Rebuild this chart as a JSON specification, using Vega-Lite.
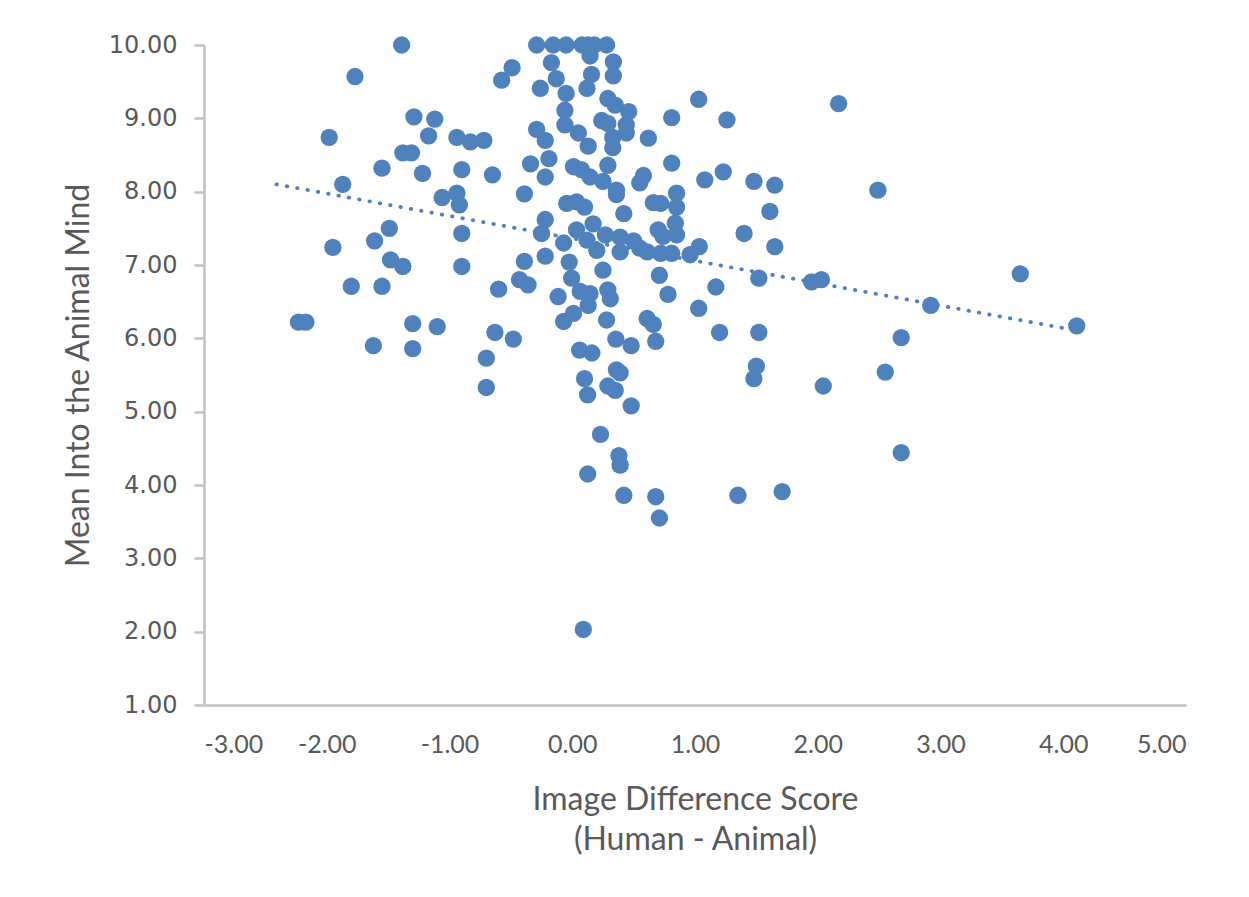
{
  "$schema": "https://vega.github.io/schema/vega-lite/v6.json",
  "width": 982,
  "height": 660,
  "autosize": {"type": "none"},
  "padding": {"left": 204, "top": 45, "right": 63, "bottom": 192},
  "background": "white",
  "config": {
    "view": {"stroke": null},
    "axis": {"grid": false, "domainColor": "#c0c0c0", "domainWidth": 2.5, "tickColor": "#c0c0c0", "tickWidth": 2.5, "labelColor": "#595959", "titleColor": "#595959", "titleFontWeight": "normal"}
  },
  "datasets": {
    "pts": [
      {"x": -1.39, "y": 10.0}, {"x": -1.77, "y": 9.57}, {"x": -1.98, "y": 8.74}, {"x": -1.29, "y": 9.02},
      {"x": -1.12, "y": 8.99}, {"x": -1.17, "y": 8.76}, {"x": -0.94, "y": 8.74}, {"x": -0.83, "y": 8.68},
      {"x": -0.72, "y": 8.70}, {"x": -1.38, "y": 8.53}, {"x": -1.31, "y": 8.53}, {"x": -1.55, "y": 8.32},
      {"x": -1.22, "y": 8.25}, {"x": -0.90, "y": 8.30}, {"x": -0.65, "y": 8.23}, {"x": -1.87, "y": 8.10},
      {"x": -1.06, "y": 7.92}, {"x": -0.94, "y": 7.98}, {"x": -0.92, "y": 7.82}, {"x": -0.39, "y": 7.97},
      {"x": -1.49, "y": 7.50}, {"x": -1.61, "y": 7.33}, {"x": -0.90, "y": 7.43}, {"x": -1.95, "y": 7.24},
      {"x": -1.48, "y": 7.07}, {"x": -1.38, "y": 6.98}, {"x": -0.90, "y": 6.98}, {"x": -1.80, "y": 6.71},
      {"x": -1.55, "y": 6.71}, {"x": -0.60, "y": 6.67}, {"x": -0.39, "y": 7.05}, {"x": -0.43, "y": 6.80},
      {"x": -0.36, "y": 6.73}, {"x": -2.23, "y": 6.22}, {"x": -2.17, "y": 6.22}, {"x": -1.30, "y": 6.20},
      {"x": -1.10, "y": 6.16}, {"x": -1.62, "y": 5.90}, {"x": -1.30, "y": 5.86}, {"x": -0.63, "y": 6.08},
      {"x": -0.48, "y": 5.99}, {"x": -0.70, "y": 5.73}, {"x": -0.70, "y": 5.33},
      {"x": -0.575, "y": 9.52}, {"x": -0.49, "y": 9.69}, {"x": -0.29, "y": 10.0}, {"x": -0.155, "y": 10.0},
      {"x": -0.05, "y": 10.0}, {"x": -0.17, "y": 9.76}, {"x": -0.26, "y": 9.41}, {"x": -0.13, "y": 9.54},
      {"x": -0.05, "y": 9.34}, {"x": -0.06, "y": 9.11}, {"x": -0.06, "y": 8.91}, {"x": -0.29, "y": 8.85},
      {"x": -0.22, "y": 8.70}, {"x": -0.34, "y": 8.38}, {"x": -0.19, "y": 8.45}, {"x": -0.22, "y": 8.20},
      {"x": -0.22, "y": 7.62}, {"x": -0.25, "y": 7.43}, {"x": -0.22, "y": 7.12}, {"x": -0.07, "y": 7.30},
      {"x": -0.025, "y": 7.04}, {"x": -0.005, "y": 6.82}, {"x": -0.115, "y": 6.57}, {"x": -0.07, "y": 6.23},
      {"x": 0.01, "y": 6.34}, {"x": -0.045, "y": 7.84},
      {"x": 0.08, "y": 10.0}, {"x": 0.13, "y": 10.0}, {"x": 0.18, "y": 10.0}, {"x": 0.28, "y": 10.0},
      {"x": 0.145, "y": 9.85}, {"x": 0.335, "y": 9.77}, {"x": 0.157, "y": 9.60}, {"x": 0.335, "y": 9.58},
      {"x": 0.12, "y": 9.41}, {"x": 0.29, "y": 9.27}, {"x": 0.35, "y": 9.18}, {"x": 0.46, "y": 9.09},
      {"x": 0.24, "y": 8.97}, {"x": 0.29, "y": 8.93}, {"x": 0.44, "y": 8.91}, {"x": 0.05, "y": 8.80},
      {"x": 0.13, "y": 8.62}, {"x": 0.33, "y": 8.74}, {"x": 0.33, "y": 8.60}, {"x": 0.44, "y": 8.80},
      {"x": 0.01, "y": 8.34}, {"x": 0.075, "y": 8.30}, {"x": 0.29, "y": 8.36}, {"x": 0.145, "y": 8.20},
      {"x": 0.25, "y": 8.14}, {"x": 0.36, "y": 8.02}, {"x": 0.035, "y": 7.86}, {"x": 0.10, "y": 7.79},
      {"x": 0.36, "y": 7.96}, {"x": 0.42, "y": 7.70}, {"x": 0.035, "y": 7.48}, {"x": 0.17, "y": 7.56},
      {"x": 0.12, "y": 7.34}, {"x": 0.20, "y": 7.20}, {"x": 0.27, "y": 7.41}, {"x": 0.39, "y": 7.38},
      {"x": 0.50, "y": 7.33}, {"x": 0.39, "y": 7.18}, {"x": 0.25, "y": 6.93}, {"x": 0.29, "y": 6.66},
      {"x": 0.31, "y": 6.54}, {"x": 0.065, "y": 6.64}, {"x": 0.145, "y": 6.61}, {"x": 0.13, "y": 6.45},
      {"x": 0.28, "y": 6.25}, {"x": 0.06, "y": 5.84}, {"x": 0.16, "y": 5.80}, {"x": 0.355, "y": 5.99},
      {"x": 0.48, "y": 5.90}, {"x": 0.10, "y": 5.45}, {"x": 0.125, "y": 5.23}, {"x": 0.29, "y": 5.35},
      {"x": 0.35, "y": 5.29}, {"x": 0.36, "y": 5.57}, {"x": 0.39, "y": 5.53}, {"x": 0.48, "y": 5.08},
      {"x": 0.23, "y": 4.69}, {"x": 0.38, "y": 4.40}, {"x": 0.39, "y": 4.27}, {"x": 0.126, "y": 4.15},
      {"x": 0.42, "y": 3.86}, {"x": 0.09, "y": 2.03},
      {"x": 0.81, "y": 9.01}, {"x": 0.62, "y": 8.73}, {"x": 0.81, "y": 8.39}, {"x": 0.58, "y": 8.22},
      {"x": 0.55, "y": 8.12}, {"x": 0.85, "y": 7.98}, {"x": 0.66, "y": 7.85}, {"x": 0.72, "y": 7.84},
      {"x": 0.85, "y": 7.79}, {"x": 0.84, "y": 7.57}, {"x": 0.85, "y": 7.41}, {"x": 0.70, "y": 7.48},
      {"x": 0.74, "y": 7.39}, {"x": 0.61, "y": 7.18}, {"x": 0.72, "y": 7.16}, {"x": 0.81, "y": 7.16},
      {"x": 0.55, "y": 7.23}, {"x": 0.71, "y": 6.86}, {"x": 0.78, "y": 6.60}, {"x": 0.61, "y": 6.27},
      {"x": 0.66, "y": 6.19}, {"x": 0.68, "y": 5.96}, {"x": 0.68, "y": 3.84}, {"x": 0.71, "y": 3.55},
      {"x": 1.03, "y": 9.26}, {"x": 1.26, "y": 8.98}, {"x": 1.23, "y": 8.27}, {"x": 1.08, "y": 8.16},
      {"x": 1.48, "y": 8.14}, {"x": 1.65, "y": 8.09}, {"x": 1.61, "y": 7.73}, {"x": 1.40, "y": 7.43},
      {"x": 1.65, "y": 7.25}, {"x": 1.035, "y": 7.25}, {"x": 0.96, "y": 7.14}, {"x": 1.52, "y": 6.82},
      {"x": 1.17, "y": 6.70}, {"x": 1.03, "y": 6.41}, {"x": 1.20, "y": 6.08}, {"x": 1.52, "y": 6.08},
      {"x": 1.50, "y": 5.62}, {"x": 1.48, "y": 5.45}, {"x": 1.35, "y": 3.86}, {"x": 1.71, "y": 3.91},
      {"x": 1.95, "y": 6.77}, {"x": 2.03, "y": 6.80}, {"x": 2.045, "y": 5.35}, {"x": 2.17, "y": 9.20},
      {"x": 2.49, "y": 8.02}, {"x": 2.55, "y": 5.54}, {"x": 2.68, "y": 6.01}, {"x": 2.68, "y": 4.44},
      {"x": 2.92, "y": 6.45}, {"x": 3.65, "y": 6.88}, {"x": 4.11, "y": 6.17}
    ],
    "trend": [
      {"x": -2.41, "y": 8.10},
      {"x": 4.10, "y": 6.11}
    ]
  },
  "layer": [
    {
      "data": {"name": "pts"},
      "mark": {"type": "circle", "size": 300, "color": "#4F81BD", "opacity": 1},
      "encoding": {
        "x": {
          "field": "x", "type": "quantitative",
          "scale": {"domain": [-3, 5], "nice": false, "zero": false},
          "axis": {
            "values": [-3, -2, -1, 0, 1, 2, 3, 4, 5],
            "labelExpr": "replace(format(datum.value, '.2f'), '\u2212', '-')",
            "ticks": false, "labelPadding": 27, "labelFont": "Lato", "labelFontSize": 25,
            "title": ["Image Difference Score", "(Human - Animal)"],
            "titleFont": "Lato", "titleFontSize": 32, "titleLineHeight": 40, "titlePadding": 27
          }
        },
        "y": {
          "field": "y", "type": "quantitative",
          "scale": {"domain": [1, 10], "nice": false, "zero": false},
          "axis": {
            "values": [1, 2, 3, 4, 5, 6, 7, 8, 9, 10], "format": ".2f",
            "tickSize": 10, "labelPadding": 17, "labelFont": "DejaVu Sans", "labelFontSize": 24,
            "title": "Mean Into the Animal Mind",
            "titleFont": "Lato", "titleFontSize": 32, "titlePadding": 13
          }
        }
      }
    },
    {
      "data": {"name": "trend"},
      "mark": {"type": "line", "color": "#4F81BD", "strokeWidth": 3.8, "strokeDash": [0.5, 10], "strokeCap": "round"},
      "encoding": {
        "x": {"field": "x", "type": "quantitative"},
        "y": {"field": "y", "type": "quantitative"}
      }
    }
  ]
}
